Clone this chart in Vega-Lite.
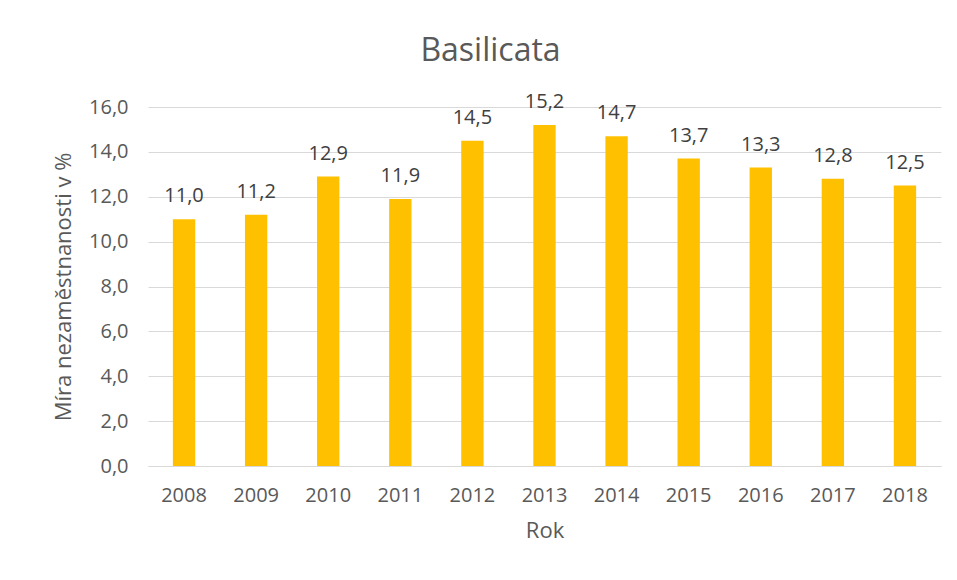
{
  "$schema": "https://vega.github.io/schema/vega-lite/v6.json",
  "width": 793,
  "height": 359,
  "autosize": {"type": "none"},
  "padding": {"left": 148, "top": 107, "right": 16, "bottom": 114},
  "background": "white",
  "title": {
    "text": "Basilicata",
    "fontSize": 32,
    "font": "Open Sans",
    "fontWeight": "normal",
    "color": "#595959",
    "anchor": "middle",
    "dx": -54,
    "offset": 24
  },
  "data": {
    "values": [
      {"rok": "2008", "mira": 11.0},
      {"rok": "2009", "mira": 11.2},
      {"rok": "2010", "mira": 12.9},
      {"rok": "2011", "mira": 11.9},
      {"rok": "2012", "mira": 14.5},
      {"rok": "2013", "mira": 15.2},
      {"rok": "2014", "mira": 14.7},
      {"rok": "2015", "mira": 13.7},
      {"rok": "2016", "mira": 13.3},
      {"rok": "2017", "mira": 12.8},
      {"rok": "2018", "mira": 12.5}
    ]
  },
  "encoding": {
    "x": {
      "field": "rok",
      "type": "ordinal",
      "title": "Rok",
      "scale": {"paddingInner": 0.69, "paddingOuter": 0.345},
      "axis": {
        "labelAngle": 0,
        "ticks": false,
        "domainColor": "#d9d9d9",
        "domainWidth": 1,
        "labelPadding": 19,
        "titlePadding": 15
      }
    },
    "y": {
      "field": "mira",
      "type": "quantitative",
      "title": "Míra nezaměstnanosti v %",
      "scale": {"domain": [0, 16], "nice": false},
      "axis": {
        "values": [0, 2, 4, 6, 8, 10, 12, 14, 16],
        "format": ".1f",
        "domain": false,
        "ticks": false,
        "gridColor": "#d9d9d9",
        "gridWidth": 1,
        "labelPadding": 20,
        "titlePadding": 13
      }
    }
  },
  "layer": [
    {"mark": {"type": "bar", "color": "#FFC000"}},
    {
      "mark": {
        "type": "text",
        "baseline": "alphabetic",
        "dy": -17,
        "font": "Open Sans",
        "fontSize": 20,
        "color": "#404040"
      },
      "encoding": {
        "text": {"field": "mira", "type": "quantitative", "format": ".1f"}
      }
    }
  ],
  "config": {
    "locale": {
      "number": {"decimal": ",", "thousands": " ", "grouping": [3], "currency": ["", " Kč"]}
    },
    "view": {"stroke": null},
    "axis": {
      "labelFont": "Open Sans",
      "labelFontSize": 20,
      "labelColor": "#595959",
      "titleFont": "Open Sans",
      "titleFontSize": 22,
      "titleFontWeight": "normal",
      "titleColor": "#595959"
    }
  }
}
